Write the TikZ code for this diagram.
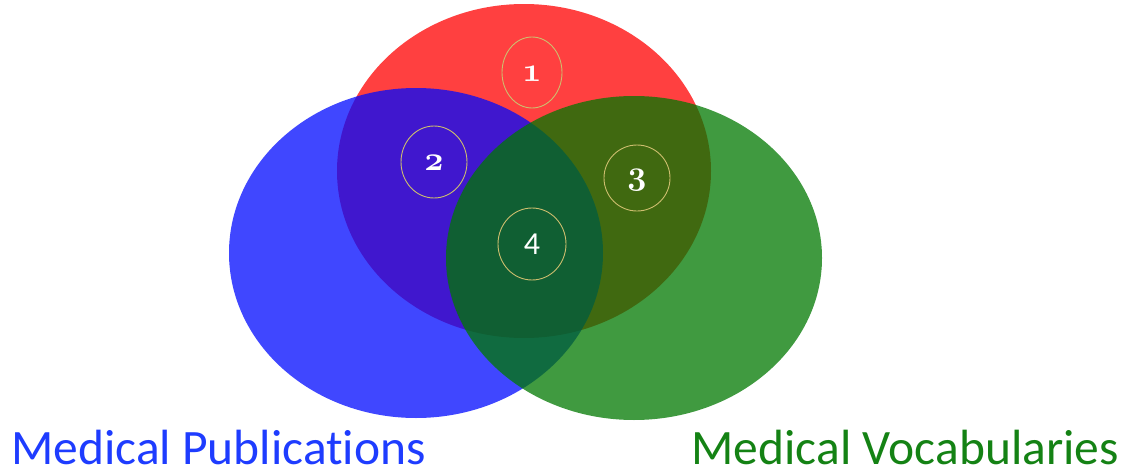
\documentclass[tikz,border=0pt]{standalone}
\usepackage{fontspec}
\setmainfont{Carlito}[Ligatures=NoCommon]
\newfontfamily\numfont[Numbers=OldStyle]{Latin Modern Roman}
\begin{document}
\begin{tikzpicture}[x=1pt,y=-1pt,
  setfill/.style={fill=#1,fill opacity=0.75,draw=none},
  ring/.style={draw=ringcol,line width=0.9pt},
  numtext/.style={text=white,font=\numfont\bfseries\fontsize{34}{34}\selectfont},
  tagtext/.style={font=\fontsize{49.5}{49.5}\selectfont,inner sep=0pt}]
\definecolor{setred}{RGB}{255,0,0}
\definecolor{setblue}{RGB}{0,10,255}
\definecolor{setgreen}{RGB}{0,120,0}
\definecolor{ringcol}{RGB}{205,190,110}
\definecolor{pubblue}{RGB}{30,60,255}
\definecolor{vocgreen}{RGB}{20,130,20}
\useasboundingbox (0,0) rectangle (1128,471);
% three overlapping sets
\fill[setfill=setred]   (524,171) ellipse [x radius=187, y radius=167];
\fill[setfill=setblue]  (416,253) ellipse [x radius=187, y radius=165];
\fill[setfill=setgreen] (634,258) ellipse [x radius=188, y radius=162];
% numbered regions
\draw[ring] (532,72.5) ellipse [x radius=30, y radius=35.5];
\draw[ring] (434,162) ellipse [x radius=33, y radius=36];
\draw[ring] (637,178) ellipse [x radius=33, y radius=33];
\draw[ring] (532,244) ellipse [x radius=34, y radius=36];
\node[numtext] (n1) at (532,74) {\oldstylenums{1}};
\node[numtext] (n2) at (434,163) {\oldstylenums{2}};
\node[numtext] (n3) at (637,180) {\oldstylenums{3}};
\node[text=white,font=\fontsize{32}{32}\selectfont] (n4) at (532,244) {4};
% set labels
\node[tagtext,text=pubblue,anchor=base west] (pub) at (11,464) {Medical Publications};
\node[tagtext,text=vocgreen,anchor=base east] (voc) at (1119,464) {Medical Vocabularies};
\end{tikzpicture}
\end{document}
